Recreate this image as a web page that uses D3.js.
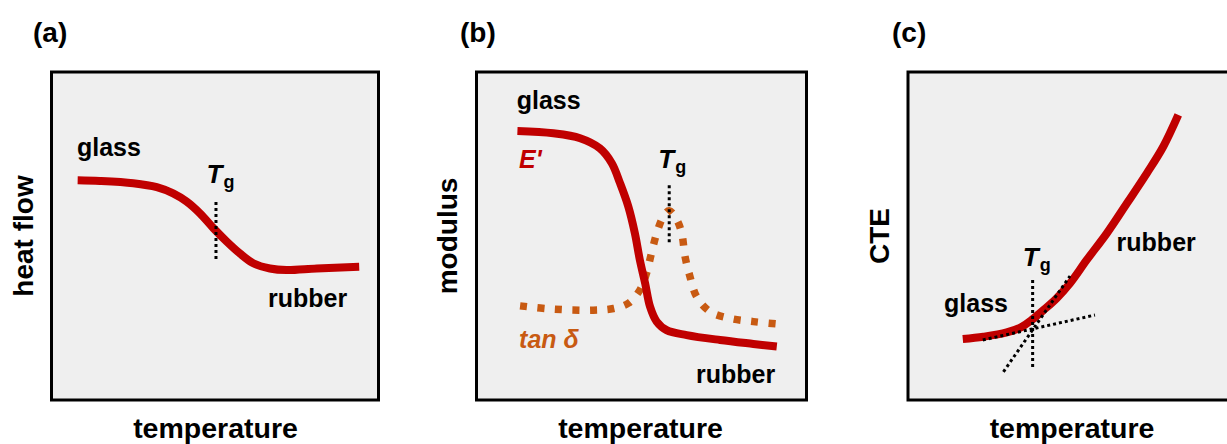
<!DOCTYPE html>
<html>
<head>
<meta charset="utf-8">
<script src="https://cdn.jsdelivr.net/npm/d3@7"></script>
<style>
  html, body { margin: 0; padding: 0; background: #ffffff; }
  svg { display: block; }
  text { font-family: "Liberation Sans", Arial, Helvetica, sans-serif; font-weight: bold; }
</style>
</head>
<body>
<svg id="chart" width="1227" height="444"></svg>
<script>
// ---------- data (temperature / property in arbitrary 0-100 units) ----------
const panelLabels = ["(a)", "(b)", "(c)"];
const yAxisLabels = ["heat flow", "modulus", "CTE"];
const xAxisLabel = "temperature";

// (a) DSC heat flow
const heatFlowT = [8.0, 14.8, 25.0, 32.2, 37.2, 41.3, 45.4, 49.5, 53.6, 57.6, 61.7, 66.8, 71.9, 81.1, 94.1];
const heatFlowV = [67.0, 66.8, 66.1, 64.9, 63.0, 60.5, 56.9, 52.4, 48.3, 44.7, 41.7, 40.1, 39.6, 40.1, 40.6];
const tgA = 50.3;

// (b) DMA storage modulus E' and tan delta
const modulusT = [12.4, 23.3, 31.4, 37.4, 41.0, 43.5, 46.0, 48.0, 49.5, 51.1, 52.6, 54.6, 57.6, 63.7, 73.8, 83.9, 91.0];
const modulusV = [82.0, 81.3, 79.8, 76.7, 72.2, 66.1, 59.0, 50.8, 42.7, 35.6, 28.4, 23.9, 21.3, 19.8, 18.3, 17.1, 16.3];
const tanDeltaT = [13.2, 23.3, 35.4, 41.5, 46.0, 49.5, 51.5, 53.0, 54.6, 56.6, 58.4, 60.7, 62.2, 63.2, 64.7, 66.7, 70.8, 76.8, 83.9, 91.0];
const tanDeltaV = [28.7, 27.7, 27.4, 27.9, 29.5, 33.5, 38.6, 44.7, 50.8, 55.9, 57.7, 54.9, 50.8, 43.7, 37.6, 31.5, 26.9, 24.9, 23.9, 23.2];
const tgB = 58.4;

// (c) TMA CTE curve and tangent construction
const cteT = [16.7, 23.0, 30.1, 34.7, 37.7, 41.3, 45.3, 49.4, 54.5, 60.6, 66.7, 72.8, 77.8, 82.4];
const cteV = [18.6, 19.3, 20.6, 22.3, 24.4, 27.4, 31.0, 35.6, 42.7, 50.8, 59.9, 69.1, 77.2, 86.9];
const glassTangentT = [22.8, 57.0];
const glassTangentV = [18.3, 25.9];
const rubberTangentT = [29.1, 49.4];
const rubberTangentV = [8.6, 37.8];
const tgC = 38.0;

// ---------- layout ----------
const svg = d3.select("#chart");
const RED = "#c00000", ORANGE = "#c85a12", BG = "#efefef";
const panels = [
  { left: 51.5, width: 327 },
  { left: 476.5, width: 330 },
  { left: 908, width: 328 }
];
const boxTop = 72, boxBottom = 400;

function scales(p) {
  return {
    x: d3.scaleLinear().domain([0, 100]).range([p.left, p.left + p.width]),
    y: d3.scaleLinear().domain([0, 100]).range([boxBottom, boxTop])
  };
}
function zip(a, b) { return a.map((v, i) => [v, b[i]]); }

function frame(i) {
  const p = panels[i];
  const g = svg.append("g");
  g.append("rect").attr("x", p.left).attr("y", boxTop)
    .attr("width", p.width).attr("height", boxBottom - boxTop)
    .attr("fill", BG).attr("stroke", "#000").attr("stroke-width", 3);
  svg.append("text").attr("x", [33, 460, 892][i]).attr("y", 42)
    .attr("font-size", 28).attr("fill", "#000").text(panelLabels[i]);
  svg.append("text").attr("x", p.left + 164).attr("y", 437.5)
    .attr("text-anchor", "middle").attr("font-size", 28.5).attr("fill", "#000").text(xAxisLabel);
  const yx = [33, 457, 888.5][i];
  svg.append("text").attr("transform", `translate(${yx},236) rotate(-90)`)
    .attr("text-anchor", "middle").attr("font-size", 28).attr("fill", "#000").text(yAxisLabels[i]);
  return g;
}

function curve(g, s, pts, color, width, dash) {
  const line = d3.line().x(d => s.x(d[0])).y(d => s.y(d[1])).curve(d3.curveCatmullRom.alpha(0.5));
  const path = g.append("path").attr("d", line(pts)).attr("fill", "none")
    .attr("stroke", color).attr("stroke-width", width).attr("stroke-linecap", "butt")
    .attr("stroke-linejoin", "round");
  if (dash) path.attr("stroke-dasharray", dash);
  return path;
}
function dotted(g, s, t, v) {
  g.append("line").attr("x1", s.x(t[0])).attr("y1", s.y(v[0]))
    .attr("x2", s.x(t[1])).attr("y2", s.y(v[1]))
    .attr("stroke", "#000").attr("stroke-width", 3).attr("stroke-dasharray", "3,3");
}
function label(g, s, tx, ty, txt, opts = {}) {
  const t = g.append("text").attr("x", s.x(tx)).attr("y", s.y(ty))
    .attr("font-size", opts.size || 25).attr("fill", opts.color || "#000").text(txt);
  if (opts.italic) t.attr("font-style", "italic");
  return t;
}
function tgLabel(g, s, tx, ty) {
  const t = g.append("text").attr("x", s.x(tx)).attr("y", s.y(ty)).attr("fill", "#000");
  t.append("tspan").attr("font-size", 26).attr("font-style", "italic").text("T");
  t.append("tspan").attr("font-size", 18).attr("dy", 5).attr("dx", 1).text("g");
}

// ---------- (a) ----------
{
  const g = frame(0), s = scales(panels[0]);
  curve(g, s, zip(heatFlowT, heatFlowV), RED, 8);
  dotted(g, s, [tgA, tgA], [60.4, 42.4]);
  label(g, s, 7.8, 74.4, "glass");
  label(g, s, 66.2, 28.4, "rubber");
  tgLabel(g, s, 47.4, 66.1);
}
// ---------- (b) ----------
{
  const g = frame(1), s = scales(panels[1]);
  curve(g, s, zip(tanDeltaT, tanDeltaV), ORANGE, 7.5, "7,10.5");
  curve(g, s, zip(modulusT, modulusV), RED, 8);
  dotted(g, s, [tgB, tgB], [65.5, 47.8]);
  label(g, s, 12.2, 88.7, "glass");
  label(g, s, 12.9, 70.7, "E'", { color: RED, italic: true });
  label(g, s, 12.9, 15.9, "tan δ", { color: ORANGE, italic: true });
  label(g, s, 66.5, 5.2, "rubber");
  tgLabel(g, s, 55.1, 70.7);
}
// ---------- (c) ----------
{
  const g = frame(2), s = scales(panels[2]);
  curve(g, s, zip(cteT, cteV), RED, 8);
  dotted(g, s, [tgC, tgC], [36.6, 9.7]);
  dotted(g, s, glassTangentT, glassTangentV);
  dotted(g, s, rubberTangentT, rubberTangentV);
  label(g, s, 11.0, 26.9, "glass");
  label(g, s, 63.6, 45.5, "rubber");
  tgLabel(g, s, 35.0, 40.9);
}
</script>
</body>
</html>
